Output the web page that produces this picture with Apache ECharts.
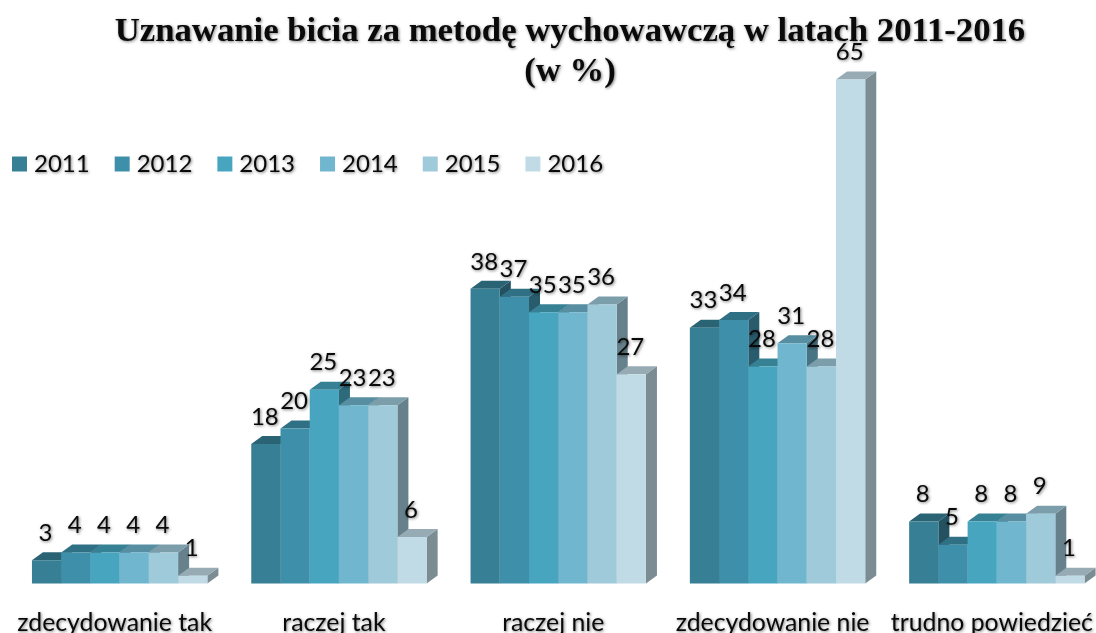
<!DOCTYPE html>
<html><head><meta charset="utf-8">
<style>html,body{margin:0;padding:0;background:#fff}#c{width:1096px;height:633px}</style>
<script src="https://cdn.jsdelivr.net/npm/echarts@6/dist/echarts.min.js"></script>
</head><body><div id="c"></div>
<script>
const categories = ['zdecydowanie tak','raczej tak','raczej nie','zdecydowanie nie','trudno powiedzieć'];
const years = ['2011','2012','2013','2014','2015','2016'];
const v2011 = [3,18,38,33,8];
const v2012 = [4,20,37,34,5];
const v2013 = [4,25,35,28,8];
const v2014 = [4,23,35,31,8];
const v2015 = [4,23,36,28,9];
const v2016 = [1,6,27,65,1];
const seriesValues = [v2011,v2012,v2013,v2014,v2015,v2016];
const colors = ['#367f95','#3e90aa','#47a5bf','#6fb6ce','#9fcada','#c0dbe5'];
const shadow = {textShadowColor:'rgba(0,0,0,0.5)',textShadowBlur:3,textShadowOffsetX:1,textShadowOffsetY:1};
const FONT = 'Lato';
function shade(hex,f){
  const n=parseInt(hex.slice(1),16);
  const c=[(n>>16)&255,(n>>8)&255,n&255].map(x=>Math.round(x*f));
  return 'rgb('+c.join(',')+')';
}
const DX=11, DY=8, W_FRAC=0.1333;
function makeRender(i){
  return function(params,api){
    const p=api.coord([api.value(0),api.value(1)]);
    const base=api.coord([api.value(0),0]);
    const band=api.size([1,0])[0];
    const w=band*W_FRAC;
    const l=p[0]+(i-3)*w, r=l+w, t=p[1], b=base[1];
    const col=colors[i];
    return {type:'group',children:[
      {type:'polygon',shape:{points:[[r,t],[r+DX,t-DY],[r+DX,b-DY],[r,b]]},style:{fill:shade(col,0.64)}},
      {type:'polygon',shape:{points:[[l,t],[l+DX,t-DY],[r+DX,t-DY],[r,t]]},style:{fill:shade(col,0.78)}},
      {type:'rect',shape:{x:l,y:t,width:w,height:b-t},style:{fill:col}},
      {type:'text',z2:50,style:Object.assign({x:l+w/2-1,y:t-27,text:String(api.value(1)),align:'center',verticalAlign:'middle',
        fill:'#0a0a0a',fontFamily:FONT,fontSize:24},shadow)}
    ]};
  };
}
const chart=echarts.init(document.getElementById('c'),null,{renderer:'canvas'});
chart.setOption({
  animation:false,
  backgroundColor:'#fff',
  title:{left:565,top:7,textAlign:'center',text:'Uznawanie bicia za metodę wychowawczą w latach 2011-2016\n(w %)',
    textStyle:Object.assign({fontFamily:'Liberation Serif',fontWeight:'bold',fontSize:34.7,lineHeight:40,color:'#0a0a0a'},shadow)},
  legend:{left:7,top:147,icon:'rect',itemWidth:15,itemHeight:15,itemGap:25,data:years,selectedMode:false,
    textStyle:Object.assign({fontFamily:FONT,fontSize:24,color:'#0a0a0a',padding:[0,0,0,2]},shadow)},
  grid:{left:10,width:1096.5,top:2,bottom:49.5,outerBoundsMode:'none'},
  xAxis:{type:'category',data:categories,axisLine:{show:false},axisTick:{show:false},
    axisLabel:{interval:0,margin:27,padding:[0,10,0,0],fontFamily:FONT,fontSize:24.8,color:'#0a0a0a',
      textShadowColor:shadow.textShadowColor,textShadowBlur:shadow.textShadowBlur,textShadowOffsetX:1,textShadowOffsetY:1}},
  yAxis:{type:'value',min:0,max:75,show:false,splitLine:{show:false}},
  series:years.map((y,i)=>({
    name:y,type:'custom',renderItem:makeRender(i),clip:false,
    itemStyle:{color:colors[i]},
    encode:{x:0,y:1},
    data:seriesValues[i].map((v,k)=>[k,v])
  }))
});
</script></body></html>
